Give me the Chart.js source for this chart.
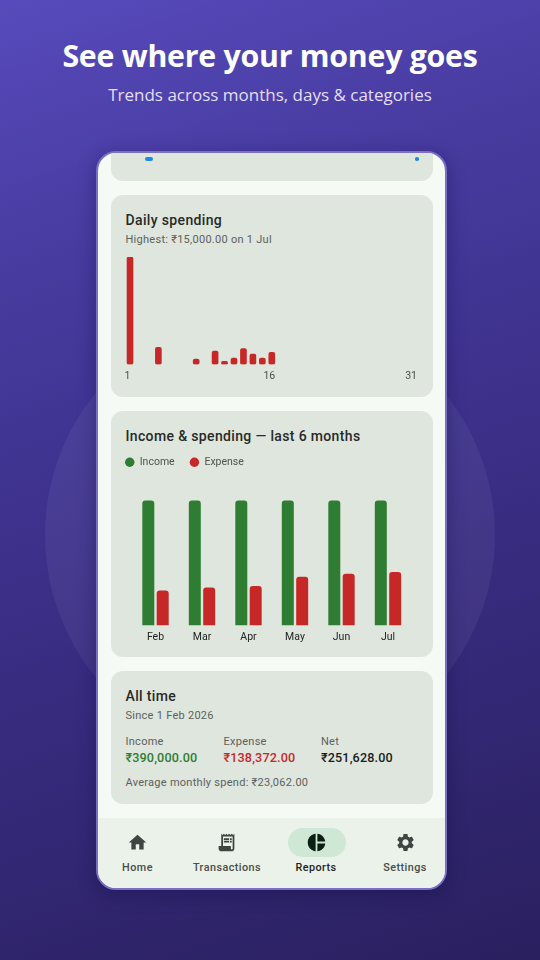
<!DOCTYPE html>
<html><head><meta charset="utf-8">
<script src="https://cdn.jsdelivr.net/npm/chart.js@4"></script>
<style>
html,body{margin:0;padding:0;width:540px;height:960px;overflow:hidden}
body{position:relative;background:linear-gradient(162deg,#574abc 0%,#473b9f 25%,#3a2e86 55%,#2a205f 100%);font-family:Roboto,sans-serif}
.abs{position:absolute;white-space:nowrap}
#halo{left:45px;top:310px;width:450px;height:450px;border-radius:50%;background:rgba(255,255,255,.055)}
h1{left:0;width:540px;top:35px;margin:0;text-align:center;color:#fff;font:700 30.3px "Open Sans",sans-serif;letter-spacing:-.25px;line-height:42px}
#sub{left:0;width:540px;top:83px;text-align:center;color:#e2dff7;font:400 17px "Open Sans",sans-serif;line-height:24px}
#phone{left:96px;top:151px;width:351px;height:739px;box-sizing:border-box;border:2px solid #7a6ec6;border-radius:20px;background:#f5fbf4;overflow:hidden;box-shadow:0 4px 18px rgba(15,8,60,.35)}
.card{background:#dfe6de;border-radius:12px;left:13px;width:322px}
.t{color:#272a27;font-size:14px;font-weight:500;letter-spacing:.35px;line-height:18px}
.s{color:#5c615c;font-size:11px;letter-spacing:.27px;line-height:14px}
.v{font-size:12.6px;font-weight:500;letter-spacing:.15px;line-height:16px}
#nav{left:0;top:665px;width:347px;height:72px;background:#eaf2e9}
.n{color:#484d48;font-size:10.8px;font-weight:500;letter-spacing:.45px;line-height:14px;transform:translateX(-50%)}
svg{position:absolute}
canvas{position:absolute}
</style></head><body>
<div class="abs" id="halo"></div>
<h1 class="abs">See where your money goes</h1>
<div class="abs" id="sub">Trends across months, days &amp; categories</div>
<div class="abs" id="phone">
  <div class="abs card" style="top:-40px;height:68px"></div>
  <div class="abs" style="left:47px;top:4px;width:8px;height:3.5px;border-radius:2px;background:#1e88e5"></div>
  <div class="abs" style="left:317px;top:4px;width:3.5px;height:3.5px;border-radius:50%;background:#1e88e5"></div>
  <div class="abs card" style="top:42px;height:202px"></div>
  <div class="abs t" style="left:27.5px;top:58px">Daily spending</div>
  <div class="abs s" style="left:27.5px;top:80px">Highest: ₹15,000.00 on 1 Jul</div>
  <div class="abs card" style="top:258px;height:246px"></div>
  <div class="abs t" style="left:27.5px;top:274px">Income &amp; spending — last 6 months</div>
  <div class="abs card" style="top:518px;height:133px"></div>
  <div class="abs t" style="left:27.5px;top:534px">All time</div>
  <div class="abs s" style="left:27.5px;top:556px">Since 1 Feb 2026</div>
  <div class="abs s" style="left:27.5px;top:582px">Income</div>
  <div class="abs s" style="left:125.5px;top:582px">Expense</div>
  <div class="abs s" style="left:223px;top:582px">Net</div>
  <div class="abs v" style="left:27.5px;top:597px;color:#2e7d32">₹390,000.00</div>
  <div class="abs v" style="left:125.5px;top:597px;color:#c62828">₹138,372.00</div>
  <div class="abs v" style="left:223px;top:597px;color:#1a1c1a">₹251,628.00</div>
  <div class="abs s" style="left:27.5px;top:623px">Average monthly spend: ₹23,062.00</div>
  <div class="abs" id="nav">
    <div class="abs" style="left:190px;top:10px;width:57.5px;height:29px;border-radius:15px;background:#cfe8d6"></div>
    <svg style="left:29px;top:14px" width="21" height="21" viewBox="0 0 24 24" fill="#3f4540"><path d="M10 20v-6h4v6h5v-8h3L12 3 2 12h3v8z"/></svg>
    <svg style="left:118px;top:14px" width="21" height="21" viewBox="0 0 24 24" fill="#3f4540"><path d="M19.5 3.5L18 2l-1.5 1.5L15 2l-1.5 1.5L12 2l-1.5 1.5L9 2 7.5 3.5 6 2v14H3v3c0 1.66 1.34 3 3 3h12c1.66 0 3-1.34 3-3V2l-1.5 1.5zM19 19c0 .55-.45 1-1 1s-1-.45-1-1v-3H8V5h11v14zM9 7h6v2H9zM16 7h2v2h-2zM9 10h6v2H9zM16 10h2v2h-2z"/></svg>
    <svg style="left:208px;top:14px" width="21" height="21" viewBox="0 0 24 24" fill="#0b1f14"><path d="M11 2v20c-5.07-.5-9-4.79-9-10s3.93-9.5 9-10zm2.03 0v8.99H22c-.47-4.74-4.24-8.52-8.97-8.99zm0 11.01V22c4.74-.47 8.5-4.25 8.97-8.99h-8.97z"/></svg>
    <svg style="left:297px;top:14px" width="21" height="21" viewBox="0 0 24 24" fill="#3f4540"><path d="M19.14 12.94c.04-.3.06-.61.06-.94 0-.32-.02-.64-.07-.94l2.03-1.58c.18-.14.23-.41.12-.61l-1.92-3.32c-.12-.22-.37-.29-.59-.22l-2.39.96c-.5-.38-1.03-.7-1.62-.94l-.36-2.54c-.04-.24-.24-.41-.48-.41h-3.84c-.24 0-.43.17-.47.41l-.36 2.54c-.59.24-1.13.57-1.62.94l-2.39-.96c-.22-.08-.47 0-.59.22L2.74 8.87c-.12.21-.08.47.12.61l2.03 1.58c-.05.3-.09.63-.09.94s.02.64.07.94l-2.03 1.58c-.18.14-.23.41-.12.61l1.92 3.32c.12.22.37.29.59.22l2.39-.96c.5.38 1.03.7 1.62.94l.36 2.54c.05.24.24.41.48.41h3.84c.24 0 .44-.17.47-.41l.36-2.54c.59-.24 1.13-.56 1.62-.94l2.39.96c.22.08.47 0 .59-.22l1.92-3.32c.12-.22.07-.47-.12-.61l-2.01-1.58zM12 15.6c-1.98 0-3.6-1.62-3.6-3.6s1.62-3.6 3.6-3.6 3.6 1.62 3.6 3.6-1.62 3.6-3.6 3.6z"/></svg>
    <div class="abs n" style="left:39.5px;top:43px">Home</div>
    <div class="abs n" style="left:129px;top:43px">Transactions</div>
    <div class="abs n" style="left:218px;top:43px;color:#1f221f">Reports</div>
    <div class="abs n" style="left:307px;top:43px">Settings</div>
  </div>
</div>
<canvas id="daily" style="left:125px;top:257px" width="294" height="131"></canvas>
<canvas id="months" style="left:110px;top:442px" width="323" height="207"></canvas>
<script>
const dayLabels = ['1','2','3','4','5','6','7','8','9','10','11','12','13','14','15','16','17','18','19','20','21','22','23','24','25','26','27','28','29','30','31'];
const dayValues = [15000,null,null,2380,null,null,null,750,null,1870,420,890,2200,1450,890,1680,null,null,null,null,null,null,null,null,null,null,null,null,null,null,null];
const dayTicks = ['1','16','31'];
const months = ['Feb','Mar','Apr','May','Jun','Jul'];
const income = [65000,65000,65000,65000,65000,65000];
const expense = [18200,19700,20500,25300,26900,27772];
const GREEN='#2e7d32', RED='#c62828';
const spacing={id:'spacing',beforeInit(c){c.ctx.letterSpacing='0.4px';}};
const tickFont={family:'Roboto',size:10.5};
const noEdgePadding=s=>{s.paddingLeft=0;s.paddingRight=0;};
new Chart(document.getElementById('daily'),{
  type:'bar',plugins:[spacing],
  data:{labels:dayLabels,datasets:[{data:dayValues,backgroundColor:RED,barThickness:6,borderRadius:2,borderSkipped:false}]},
  options:{responsive:false,animation:false,devicePixelRatio:1,
    layout:{autoPadding:false,padding:{left:.3,right:.7}},
    plugins:{legend:{display:false},tooltip:{enabled:false}},
    scales:{
      x:{afterFit:noEdgePadding,grid:{display:false,drawTicks:false},border:{display:false},ticks:{autoSkip:false,maxRotation:0,padding:5.5,labelOffset:-2.5,color:'#4a4f4a',font:tickFont,
         callback(v){const l=this.getLabelForValue(v);return dayTicks.includes(l)?l:'';}}},
      y:{display:false,min:0,max:15000}
    }}
});
new Chart(document.getElementById('months'),{
  type:'bar',plugins:[spacing],
  data:{labels:months,datasets:[
    {label:'Income',data:income,backgroundColor:GREEN,borderRadius:{topLeft:3,topRight:3},borderSkipped:'bottom',categoryPercentage:.619,barPercentage:.833},
    {label:'Expense',data:expense,backgroundColor:RED,borderRadius:{topLeft:3,topRight:3},borderSkipped:'bottom',categoryPercentage:.619,barPercentage:.833}]},
  options:{responsive:false,animation:false,devicePixelRatio:1,
    layout:{autoPadding:false,padding:{right:21.75}},
    plugins:{tooltip:{enabled:false},
      legend:{position:'top',align:'start',labels:{usePointStyle:true,pointStyle:'circle',pointStyleWidth:9.5,boxHeight:6.7,padding:15,color:'#4f544f',font:{family:'Roboto',size:10.5}}}},
    scales:{
      x:{grid:{display:false,drawTicks:false},border:{display:false},ticks:{maxRotation:0,padding:5.5,color:'#222522',font:tickFont}},
      y:{min:0,max:76900,grid:{display:false},border:{display:false},ticks:{display:false},afterFit(s){s.width=22.25;}}
    }}
});
</script>
</body></html>
